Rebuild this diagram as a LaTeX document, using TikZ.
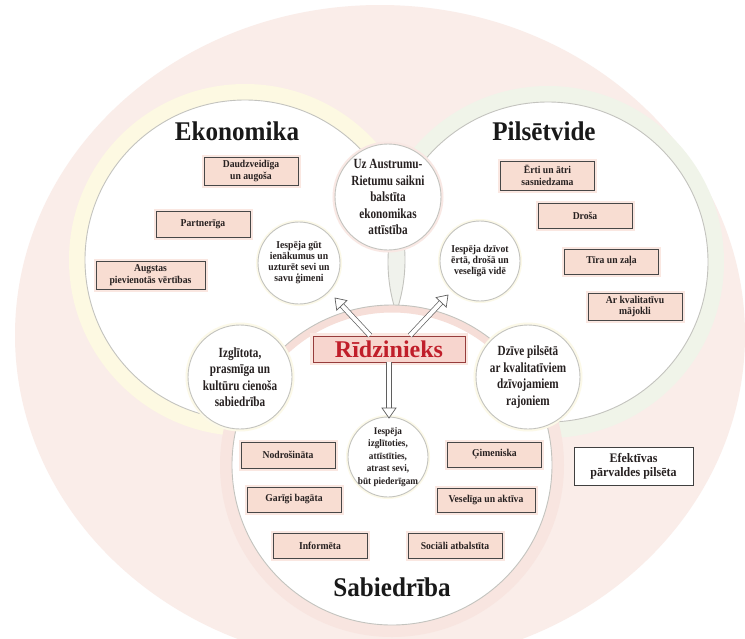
\documentclass[tikz,border=0pt]{standalone}
\usepackage{fontspec}
\setmainfont{Liberation Serif}
\newfontfamily\ftitle[FakeStretch=0.93]{Liberation Serif}
\newfontfamily\fcond[FakeStretch=0.8]{Liberation Serif}
\newfontfamily\fsmall[FakeStretch=0.92]{Liberation Serif}
\usetikzlibrary{calc}
\definecolor{bgpink}{RGB}{250,237,233}
\definecolor{halyellow}{RGB}{253,249,226}
\definecolor{halgreen}{RGB}{240,244,233}
\definecolor{halpink}{RGB}{248,229,224}
\definecolor{bandpink}{RGB}{246,222,216}
\definecolor{softpink}{RGB}{249,232,228}
\definecolor{softyellow}{RGB}{252,249,232}
\definecolor{boxpink}{RGB}{248,221,210}
\definecolor{glowpink}{RGB}{250,231,225}
\definecolor{ridred}{RGB}{192,30,42}
\definecolor{ridfill}{RGB}{247,213,206}
\definecolor{rimgray}{RGB}{195,195,190}
\definecolor{lensfill}{RGB}{240,242,236}
\definecolor{arrgray}{RGB}{95,95,95}
\definecolor{txt}{RGB}{38,32,32}
\newcommand\hollowarrow[2]{%
  \coordinate (hb) at ($(#2)!10pt!(#1)$);
  \draw[arrgray, line width=0.7pt, double=white, double distance=4pt] (#1) -- (hb);
  \draw[arrgray, line width=0.7pt, fill=white, line join=miter]
    (#2) -- ($(hb)!7pt!90:(#2)$) -- ($(hb)!7pt!-90:(#2)$) -- cycle;
}
\begin{document}
\begin{tikzpicture}[x=1pt,y=-1pt,
  bigrim/.style={draw=rimgray, line width=0.9pt},
  scirc/.style={circle, draw=rimgray, line width=0.9pt, fill=white, inner sep=0pt, minimum size=#1},
  ctext/.style={align=center, text=txt, inner sep=0pt, font=\fcond\bfseries\fontsize{14}{16.5}\selectfont},
  stext/.style={align=center, text=txt, inner sep=0pt, font=\fsmall\bfseries\fontsize{10.5}{11}\selectfont},
  pbox/.style={draw=black!72, line width=0.9pt, fill=boxpink, minimum width=94pt, minimum height=26pt,
     inner sep=1pt, align=center, text=txt, font=\fsmall\bfseries\fontsize{10.5}{11.5}\selectfont,
     preaction={draw=glowpink, line width=5pt}},
  title/.style={anchor=base, text=black!90, inner sep=0pt, font=\ftitle\bfseries\fontsize{27}{30}\selectfont}
]
\useasboundingbox (0,0) rectangle (745,638);
\fill[white] (0,0) rectangle (745,638);
\begin{scope}
\clip (0,0) rectangle (745,638);
\fill[bgpink] (380,335) ellipse [x radius=365, y radius=330];

\coordinate (cE) at (245,260);
\coordinate (cP) at (548,262);
\coordinate (cS) at (392,465);

% halos
\draw[halyellow, line width=16pt] (cE) circle [radius=168];
\draw[halgreen, line width=16pt] (cP) circle [radius=168];
\draw[halpink, line width=12pt] (cS) circle [radius=166];

% big circles
\fill[white] (cE) circle [radius=160];
\fill[white] (cP) circle [radius=160];
\begin{scope}
  \clip (cE) circle [radius=160];
  \fill[lensfill] (cP) circle [radius=160];
\end{scope}
\draw[bigrim] (cE) circle [radius=160];
\draw[bigrim] (cP) circle [radius=160];
\fill[white] (cS) circle [radius=160];
\begin{scope}
  \clip (cS) circle [radius=160];
  \draw[bandpink, line width=9pt] (cS) ++(215:157) arc[start angle=215, end angle=325, radius=157];
\end{scope}
\draw[bigrim] (cS) circle [radius=160];
\end{scope}

% titles
\node[title] (tE) at (237,140) {Ekonomika};
\node[title] (tP) at (544,140) {Pilsētvide};
\node[title] (tS) at (392,596) {Sabiedrība};

% small circles
\node[scirc=106pt, preaction={draw=softpink, line width=5pt}] (uz) at (388,197) {};
\node[ctext] (uz-t) at (uz) {Uz Austrumu-\\Rietumu saikni\\balstīta\\ekonomikas\\attīstība};

\node[scirc=82pt, preaction={draw=softyellow, line width=4pt}] (gut) at (299,263) {};
\node[stext] (gut-t) at (gut) {Iespēja gūt\\ienākumus un\\uzturēt sevi un\\savu ģimeni};

\node[scirc=80pt, preaction={draw=softyellow, line width=4pt}] (dziv) at (480,261) {};
\node[stext] (dziv-t) at (dziv) {Iespēja dzīvot\\ērtā, drošā un\\veselīgā vidē};

\node[scirc=104pt, preaction={draw=softyellow, line width=5pt}] (izg) at (240,377) {};
\node[ctext] (izg-t) at (izg) {Izglītota,\\prasmīga un\\kultūru cienoša\\sabiedrība};

\node[scirc=104pt, preaction={draw=softyellow, line width=5pt}] (dzive) at (528,377) {};
\node[ctext] (dzive-t) at (dzive) {Dzīve pilsētā\\ar kvalitatīviem\\dzīvojamiem\\rajoniem};

\node[scirc=80pt, preaction={draw=softyellow, line width=4pt}] (izgl) at (388,457) {};
\node[stext, font=\fsmall\bfseries\fontsize{10}{12.5}\selectfont] (izgl-t) at (izgl) {Iespēja\\izglītoties,\\attīstīties,\\atrast sevi,\\būt piederīgam};

% Ekonomika boxes
\node[pbox, minimum height=28pt] (e1) at (251,171) {Daudzveidīga\\un augoša};
\node[pbox] (e2) at (203,224) {Partnerīga};
\node[pbox, minimum width=109pt, minimum height=28pt] (e3) at (150.5,275) {Augstas\\pievienotās vērtības};

% Pilsetvide boxes
\node[pbox, minimum height=29pt] (p1) at (547.5,175.5) {Ērti un ātri\\sasniedzama};
\node[pbox, minimum height=25pt] (p2) at (585,215.5) {Droša};
\node[pbox, minimum height=25pt] (p3) at (611.5,261.5) {Tīra un zaļa};
\node[pbox, minimum height=27pt] (p4) at (635,306.5) {Ar kvalitatīvu\\mājokli};

% Sabiedriba boxes
\node[pbox] (s1) at (288,455) {Nodrošināta};
\node[pbox, minimum height=25pt] (s2) at (294,499.5) {Garīgi bagāta};
\node[pbox, minimum height=25pt] (s3) at (320,545.5) {Informēta};
\node[pbox, minimum height=25pt] (s4) at (494.5,454.5) {Ģimeniska};
\node[pbox, minimum width=98pt, minimum height=24pt] (s5) at (486,500) {Veselīga un aktīva};
\node[pbox, minimum height=25pt] (s6) at (455,545.5) {Sociāli atbalstīta};

\node[draw=black!75, line width=1pt, fill=white, minimum width=119pt, minimum height=38pt, inner sep=1pt,
      align=center, text=txt, font=\fsmall\bfseries\fontsize{13}{14}\selectfont] (eff) at (633.5,466)
      {Efektīvas\\pārvaldes pilsēta};

% central node
\node[draw={rgb,255:red,150;green,60;blue,60}, line width=0.9pt, fill=ridfill,
      preaction={draw=glowpink, line width=6pt},
      minimum width=152pt, minimum height=26pt, inner sep=0pt, text=ridred,
      font=\bfseries\fontsize{24}{26}\selectfont] (rid) at (389,349) {Rīdzinieks};

% arrows
\coordinate (a1s) at ($(rid.north)+(-19,0)$);
\coordinate (a1t) at (335,298);
\coordinate (a2s) at ($(rid.north)+(21,0)$);
\coordinate (a2t) at (448,295);
\coordinate (a3t) at (389,418);
\hollowarrow{a1s}{a1t}
\hollowarrow{a2s}{a2t}
\hollowarrow{rid.south}{a3t}
\end{tikzpicture}
\end{document}
